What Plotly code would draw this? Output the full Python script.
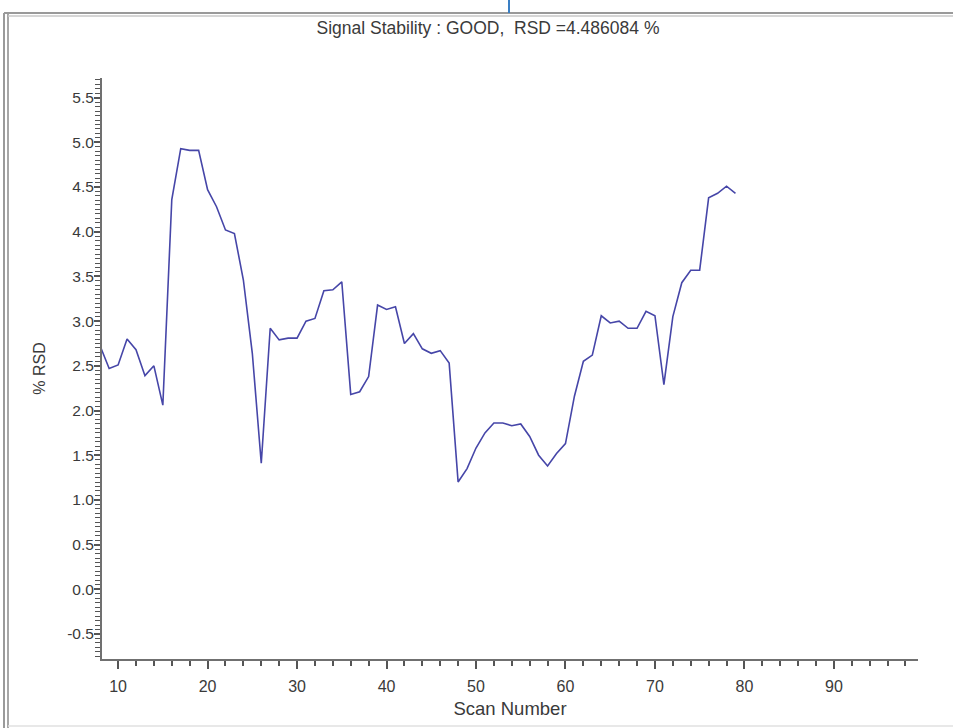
import plotly.graph_objects as go

scan = list(range(8, 80))
rsd = [2.72, 2.47, 2.51, 2.80, 2.68, 2.39, 2.50, 2.06, 4.36, 4.93,
       4.91, 4.91, 4.47, 4.28, 4.02, 3.98, 3.46, 2.64, 1.41, 2.92,
       2.79, 2.81, 2.81, 3.00, 3.03, 3.34, 3.35, 3.44, 2.18, 2.21,
       2.38, 3.18, 3.13, 3.16, 2.75, 2.86, 2.69, 2.64, 2.67, 2.53,
       1.20, 1.35, 1.58, 1.75, 1.86, 1.86, 1.83, 1.85, 1.71, 1.50,
       1.38, 1.52, 1.63, 2.16, 2.55, 2.62, 3.06, 2.98, 3.00, 2.92,
       2.92, 3.11, 3.06, 2.29, 3.05, 3.43, 3.57, 3.57, 4.38, 4.43,
       4.51, 4.43]

y_tickvals = [-0.5, 0.0, 0.5, 1.0, 1.5, 2.0, 2.5, 3.0, 3.5, 4.0, 4.5, 5.0, 5.5]
y_ticktext = ["-0.5", "0.0", "0.5", "1.0", "1.5", "2.0", "2.5", "3.0",
              "3.5", "4.0", "4.5", "5.0", "5.5"]

title_text = "Signal Stability : GOOD,  RSD =4.486084 %"
x_title = "Scan Number"
y_title = "% RSD"

W, H = 953, 728
L, R, T, B = 102, 35, 78, 69
PW, PH = W - L - R, H - T - B

def px(x):
    return (x - L) / PW

def py(y):
    return (H - B - y) / PH

FONT = "Liberation Sans, Arial"
TXT = "#3a3a3a"

fig = go.Figure()
fig.add_trace(go.Scatter(x=scan, y=rsd, mode="lines",
                         line=dict(color="#4646a8", width=1.6),
                         showlegend=False, hoverinfo="x+y"))

axis_common = dict(showgrid=False, zeroline=False, showline=True,
                   linecolor="#707070", linewidth=2, ticks="outside",
                   tickcolor="#555555", tickwidth=1.5,
                   mirror=False)

fig.update_layout(
    width=W, height=H,
    margin=dict(l=L, r=R, t=T, b=B, pad=0),
    paper_bgcolor="white", plot_bgcolor="white",
    title=dict(text=title_text, x=488 / W, xanchor="center",
               y=1 - 28 / H, yanchor="middle", yref="container",
               font=dict(family=FONT, size=17.5, color=TXT)),
    xaxis=dict(range=[8.2, 99.4], tick0=10, dtick=10, ticklen=8,
               ticklabelstandoff=4,
               tickfont=dict(family=FONT, size=16, color=TXT),
               title=dict(text=x_title, standoff=8,
                          font=dict(family=FONT, size=18.5, color=TXT)),
               minor=dict(dtick=2, tick0=0, ticks="outside", ticklen=5,
                          tickcolor="#555555", tickwidth=1.5),
               **axis_common),
    yaxis=dict(range=[-0.78, 5.72], tickvals=y_tickvals, ticktext=y_ticktext,
               ticklen=6, ticklabelstandoff=-3,
               tickfont=dict(family=FONT, size=15.5, color=TXT),
               title=dict(text=y_title, standoff=18,
                          font=dict(family=FONT, size=16, color=TXT)),
               minor=dict(dtick=0.05, tick0=0, ticks="outside", ticklen=5,
                          tickcolor="#555555", tickwidth=1.2),
               **axis_common),
)

shapes = [
    # window frame lines
    dict(type="line", xref="paper", yref="paper", x0=px(4), x1=px(4),
         y0=py(13), y1=py(728), line=dict(color="#9a9a9a", width=2)),
    dict(type="line", xref="paper", yref="paper", x0=px(8), x1=px(8),
         y0=py(14), y1=py(728), line=dict(color="#8a8a8a", width=1.5)),
    dict(type="line", xref="paper", yref="paper", x0=px(4), x1=px(953),
         y0=py(13), y1=py(13), line=dict(color="#9a9a9a", width=2)),
    dict(type="line", xref="paper", yref="paper", x0=px(8), x1=px(953),
         y0=py(16), y1=py(16), line=dict(color="#c8c8c8", width=1.5)),
    dict(type="line", xref="paper", yref="paper", x0=px(8), x1=px(953),
         y0=py(726), y1=py(726), line=dict(color="#e0e0e0", width=1.5)),
    dict(type="line", xref="paper", yref="paper", x0=px(509), x1=px(509),
         y0=py(0), y1=py(13), line=dict(color="#3a7fc4", width=2)),
]
fig.update_layout(shapes=shapes)

fig.write_html("out.html")
